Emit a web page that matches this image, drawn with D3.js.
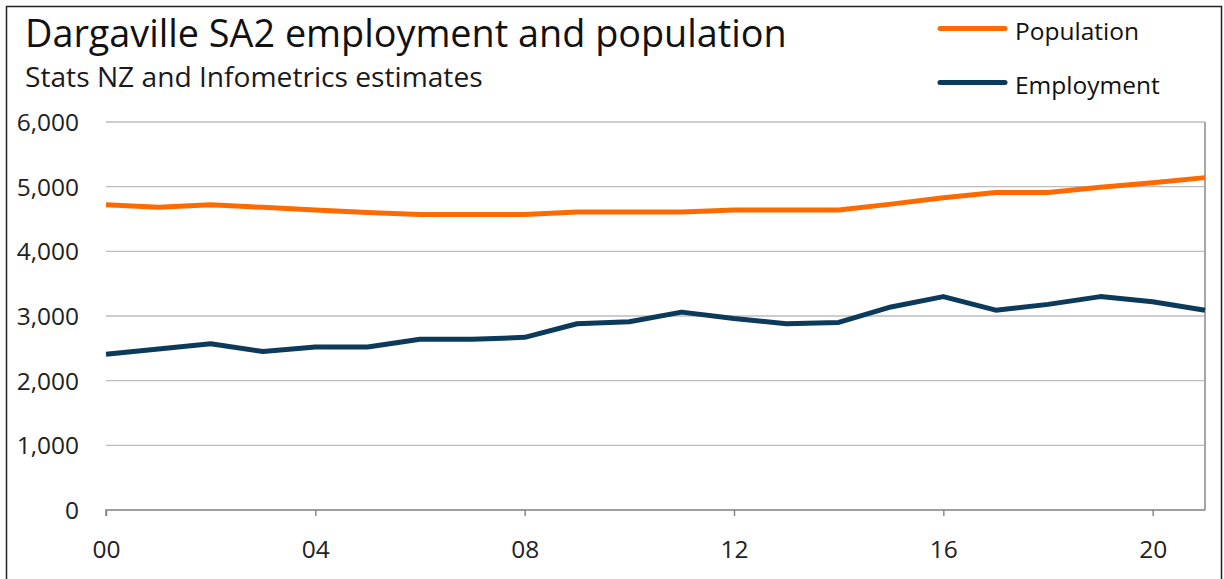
<!DOCTYPE html>
<html>
<head>
<meta charset="utf-8">
<script src="https://cdn.jsdelivr.net/npm/d3@7"></script>
<style>
  html, body { margin: 0; padding: 0; background: #fff; }
  svg { display: block; font-family: "Open Sans", "Noto Sans", sans-serif; }
</style>
</head>
<body>
<svg id="chart" width="1224" height="579"></svg>
<script>
// Years 2000–2021, labelled by two-digit year
const years = d3.range(2000, 2022);
const population = [4720, 4680, 4720, 4680, 4640, 4600, 4570, 4570, 4570, 4610, 4610,
                    4610, 4640, 4640, 4640, 4730, 4830, 4910, 4910, 4990, 5060, 5140];
const employment = [2410, 2490, 2570, 2450, 2520, 2520, 2640, 2640, 2670, 2880, 2910,
                    3060, 2960, 2880, 2900, 3140, 3300, 3090, 3180, 3300, 3220, 3090];
const yTicks = [0, 1000, 2000, 3000, 4000, 5000, 6000];
const xTickYears = [2000, 2004, 2008, 2012, 2016, 2020];
const seriesNames = ["Population", "Employment"];
const seriesColors = ["#ff6a00", "#0b3a5a"];
const titleText = "Dargaville SA2 employment and population";
const subtitleText = "Stats NZ and Infometrics estimates";

const svg = d3.select("#chart");
const plot = { left: 106, right: 1205, top: 122, bottom: 510 };

const x = d3.scaleLinear().domain([2000, 2021]).range([plot.left, plot.right]);
const y = d3.scaleLinear().domain([0, 6000]).range([plot.bottom, plot.top]);

// Outer frame
svg.append("path")
  .attr("d", `M6.5,579 V6.5 H1221.5 V579`)
  .attr("fill", "none").attr("stroke", "#222").attr("stroke-width", 1.5);

// Scale a text element so it spans a given width
function fitWidth(sel, width) {
  const w = sel.node().getComputedTextLength();
  const fs = parseFloat(sel.attr("font-size"));
  sel.attr("font-size", fs * width / w);
}

// Title and subtitle
fitWidth(svg.append("text").attr("x", 25).attr("y", 47).attr("font-size", 34)
  .attr("fill", "#111").text(titleText), 762);
fitWidth(svg.append("text").attr("x", 25).attr("y", 87).attr("font-size", 22)
  .attr("fill", "#1a1a1a").text(subtitleText), 458);

// Horizontal gridlines
svg.append("g").selectAll("line").data(yTicks.filter(d => d > 0)).join("line")
  .attr("x1", plot.left).attr("x2", plot.right)
  .attr("y1", d => y(d)).attr("y2", d => y(d))
  .attr("stroke", "#bdbdbd").attr("stroke-width", 1.4);

// Right edge of plot area
svg.append("line")
  .attr("x1", plot.right).attr("x2", plot.right)
  .attr("y1", y(6000)).attr("y2", y(0))
  .attr("stroke", "#a6a6a6").attr("stroke-width", 2);

// Y axis labels
const yAxis = d3.axisLeft(y).tickValues(yTicks).tickSize(0).tickPadding(0)
  .tickFormat(d3.format(","));
const gy = svg.append("g").attr("transform", `translate(79,0)`).call(yAxis);
gy.select(".domain").remove();
gy.selectAll("text").attr("font-size", 24.5).attr("fill", "#222")
  .attr("font-family", "\"Open Sans\", sans-serif").attr("dy", "0.35em");

// X axis with ticks every four years
const xAxis = d3.axisBottom(x).tickValues(xTickYears).tickSize(6).tickPadding(25)
  .tickFormat(d => String(d % 100).padStart(2, "0"));
const gx = svg.append("g").attr("transform", `translate(0,${plot.bottom})`).call(xAxis);
gx.select(".domain").attr("stroke", "#808080").attr("stroke-width", 1.4)
  .attr("d", `M${plot.left},6V0H${plot.right}`);
gx.selectAll(".tick line").attr("stroke", "#808080").attr("stroke-width", 1.4);
gx.selectAll("text").attr("font-size", 24.5).attr("fill", "#222")
  .attr("font-family", "\"Open Sans\", sans-serif");

// Series lines
const line = d3.line().x((d, i) => x(years[i])).y(d => y(d));
[population, employment].forEach((vals, i) => {
  svg.append("path").datum(vals)
    .attr("d", line)
    .attr("fill", "none")
    .attr("stroke", seriesColors[i])
    .attr("stroke-width", 5)
    .attr("stroke-linejoin", "round");
});

// Legend
const legendY = [28.5, 82.5];
seriesNames.forEach((name, i) => {
  const g = svg.append("g");
  g.append("line")
    .attr("x1", 940).attr("x2", 1005)
    .attr("y1", legendY[i]).attr("y2", legendY[i])
    .attr("stroke", seriesColors[i]).attr("stroke-width", 5)
    .attr("stroke-linecap", "round");
  g.append("text").attr("x", 1015).attr("y", legendY[i] + 2.5).attr("dy", "0.36em")
    .attr("font-size", 24.5).attr("fill", "#111").text(name);
});
</script>
</body>
</html>
